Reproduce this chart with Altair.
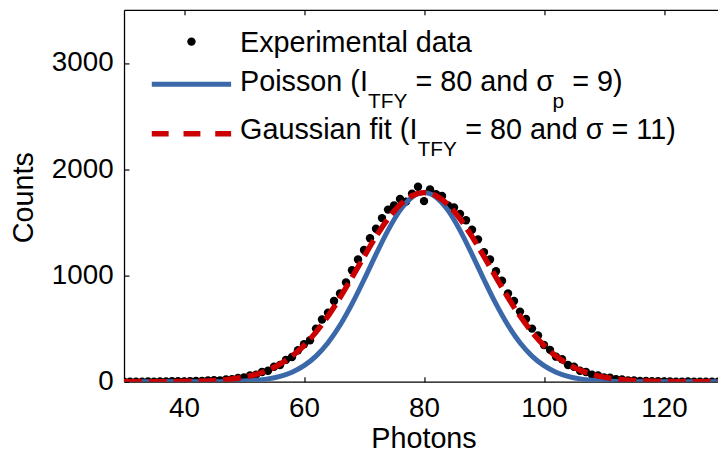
import altair as alt
import pandas as pd

# ---------------- data ----------------
photons = list(range(30, 130))
counts = [
    0, 0, 1, 0, 2, 1, 3, 2, 4, 5,
    3, 6, 8, 7, 11, 14, 13, 22, 24, 36,
    41, 58, 66, 92, 104, 141, 158, 206, 232, 297,
    352, 391, 500, 585, 650, 760, 830, 935, 1050, 1150,
    1240, 1350, 1440, 1540, 1620, 1660, 1720, 1695, 1770, 1835,
    1700, 1810, 1765, 1748, 1660, 1640, 1580, 1520, 1430, 1340,
    1220, 1150, 1040, 950, 830, 760, 660, 590, 500, 435,
    345, 300, 236, 212, 158, 141, 104, 92, 66, 58,
    40, 37, 24, 21, 13, 12, 7, 7, 4, 5,
    2, 3, 1, 0, 2, 0, 1, 0, 0, 1,
]
fit_x = list(range(30, 131, 2))
poisson_fit = [
    0, 0, 0, 0, 0, 0, 0, 0, 1, 3, 7, 14, 27, 51, 90, 151, 241, 367, 531, 732,
    960, 1199, 1425, 1613, 1737, 1780, 1737, 1613, 1425, 1199, 960, 732, 531,
    367, 241, 151, 90, 51, 27, 14, 7, 3, 1, 0, 0, 0, 0, 0, 0, 0, 0,
]
gauss_fit = [
    0, 0, 0, 0, 1, 2, 5, 8, 15, 26, 43, 70, 109, 165, 241, 341, 467, 618, 792, 982,
    1177, 1366, 1534, 1666, 1751, 1780, 1751, 1666, 1534, 1366, 1177, 982, 792,
    618, 467, 341, 241, 165, 109, 70, 43, 26, 15, 8, 5, 2, 1, 0, 0, 0, 0,
]
x_ticks = [40, 60, 80, 100, 120]
y_ticks = [0, 1000, 2000, 3000]

# ---------------- style ----------------
W, H = 599, 375
FONT = "Liberation Sans"
BLUE = "#3a68a9"
RED = "#cc0000"

exp_df = pd.DataFrame({"x": photons, "y": counts})
fit_df = pd.DataFrame({"x": fit_x, "p": poisson_fit, "g": gauss_fit})

xs = alt.Scale(domain=[30, 129], nice=False, zero=False)
ys = alt.Scale(domain=[0, 3500], nice=False)

main_x_axis = alt.Axis(
    orient="bottom", values=x_ticks, ticks=False, tickSize=0, grid=False,
    domain=True, domainColor="black", domainWidth=1.3, format="d",
    labelFont=FONT, labelFontSize=28, labelColor="black", labelPadding=35,
    labelBaseline="alphabetic", labelAngle=0, labelFlush=False, labelOverlap=False,
    title="Photons", titleFont=FONT, titleFontSize=29, titleFontWeight="normal",
    titleColor="black", titleBaseline="alphabetic", titleAlign="center",
    titleX=302, titleY=66,
)
main_y_axis = alt.Axis(
    orient="left", values=y_ticks, ticks=False, tickSize=0, grid=False,
    domain=True, domainColor="black", domainWidth=1.3, format="d",
    labelFont=FONT, labelFontSize=28, labelColor="black", labelPadding=11,
    labelFlush=False, labelOverlap=False,
    title="Counts", titleFont=FONT, titleFontSize=29, titleFontWeight="normal",
    titleColor="black", titleAngle=270, titleBaseline="alphabetic",
    titleAlign="center", titleX=-92, titleY=189,
)
top_axis = alt.Axis(
    orient="bottom", offset=-H, values=x_ticks, ticks=True, tickSize=5,
    tickColor="black", tickWidth=1.2, labels=False, domain=True,
    domainColor="black", domainWidth=1.3, grid=False, title=None,
)
bottom_tick_axis = alt.Axis(
    orient="top", offset=-H, values=x_ticks, ticks=True, tickSize=5,
    tickColor="black", tickWidth=1.2, labels=False, domain=False, grid=False,
    title=None,
)
left_tick_axis = alt.Axis(
    orient="right", offset=-W, values=y_ticks, ticks=True, tickSize=5,
    tickColor="black", tickWidth=1.2, labels=False, domain=False, grid=False,
    title=None,
)

dots = alt.Chart(exp_df).mark_circle(size=72, color="black", opacity=1, clip=True).encode(
    x=alt.X("x:Q", scale=xs, axis=main_x_axis),
    y=alt.Y("y:Q", scale=ys, axis=main_y_axis),
)
blue = alt.Chart(fit_df).mark_line(color=BLUE, strokeWidth=5, interpolate="monotone", clip=True).encode(
    x=alt.X("x:Q", scale=xs, axis=top_axis),
    y=alt.Y("p:Q", scale=ys, axis=left_tick_axis),
)
red = alt.Chart(fit_df).mark_line(
    color=RED, strokeWidth=5.5, strokeDash=[18, 7], interpolate="monotone", clip=True
).encode(
    x=alt.X("x:Q", scale=xs, axis=bottom_tick_axis),
    y=alt.Y("g:Q", scale=ys, axis=None),
)

# ---------------- manual legend ----------------
def txt(s, x, y, size=29):
    return alt.Chart().mark_text(
        font=FONT, fontSize=size, align="left", baseline="alphabetic", color="black"
    ).encode(x=alt.value(x), y=alt.value(y), text=alt.value(s))

leg_dot = alt.Chart().mark_circle(size=72, color="black", opacity=1).encode(
    x=alt.value(68), y=alt.value(32)
)
leg_blue = alt.Chart().mark_rule(color=BLUE, strokeWidth=5).encode(
    x=alt.value(28), x2=alt.value(108), y=alt.value(75)
)
leg_red = alt.Chart().mark_rule(color=RED, strokeWidth=5.5, strokeDash=[17, 15]).encode(
    x=alt.value(28), x2=alt.value(108), y=alt.value(125)
)
legend = [
    leg_dot, leg_blue, leg_red,
    txt("Experimental data", 117, 42),
    txt("Poisson (I", 117, 82),
    txt("TFY", 246, 99, 21),
    txt("= 80 and σ", 294, 82),
    txt("p", 432, 99, 21),
    txt("= 9)", 452, 82),
    txt("Gaussian fit (I", 117, 130),
    txt("TFY", 296, 147, 21),
    txt("= 80 and σ = 11)", 344, 130),
]

chart = alt.layer(dots, blue, red, *legend).resolve_axis(
    x="independent", y="independent"
).properties(
    width=W, height=H,
    padding={"left": 117, "top": 0, "right": 0, "bottom": 71},
    autosize=alt.AutoSizeParams(type="none"),
).configure_view(stroke=None)

chart.save("out.html", embed_options={"renderer": "svg", "actions": False})
